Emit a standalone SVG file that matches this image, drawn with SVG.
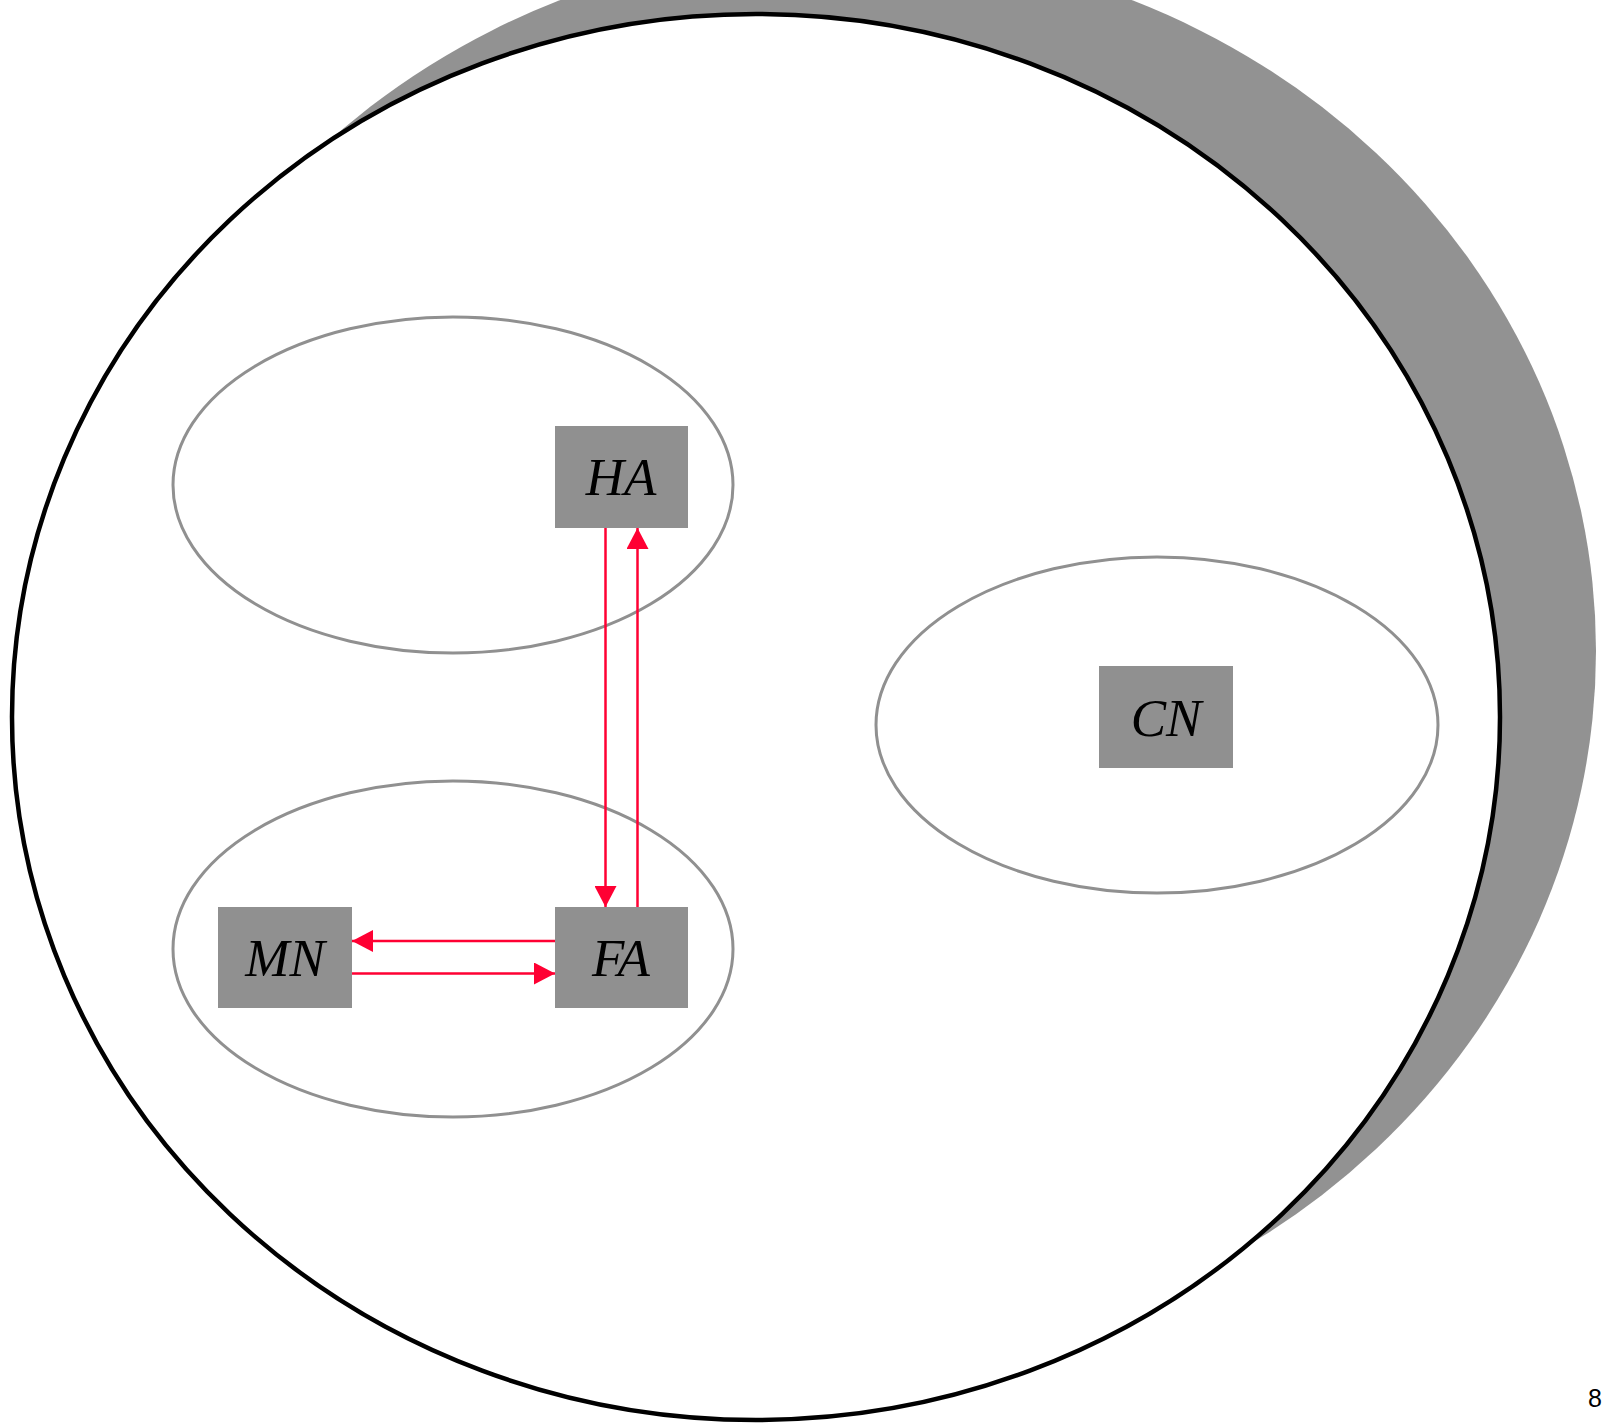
<svg xmlns="http://www.w3.org/2000/svg" width="1613" height="1423" viewBox="0 0 1613 1423">
  <style>
    .cluster { fill: none; stroke: #909090; stroke-width: 3; }
    .node rect { fill: #909090; }
    .node text { font-family: "Liberation Serif", "Times New Roman", serif; font-style: italic; font-size: 53px; fill: #000; text-anchor: middle; }
    .edge { stroke: #ff0033; stroke-width: 2.5; fill: none; marker-end: url(#arrow); }
  </style>
  <defs>
    <marker id="arrow" markerUnits="userSpaceOnUse" markerWidth="22" markerHeight="22" viewBox="0 0 21 22" refX="21" refY="11" orient="auto">
      <path d="M0,0 L21,11 L0,22 Z" fill="#ff0033"/>
    </marker>
  </defs>

  <rect width="1613" height="1423" fill="#fff"/>

  <!-- outer boundary with offset shadow -->
  <g id="outer">
    <ellipse cx="846" cy="651" rx="750" ry="704" fill="#929292"/>
    <ellipse cx="756" cy="717" rx="744" ry="703" fill="#fff" stroke="#000" stroke-width="4.5"/>
  </g>

  <!-- grouping ellipses -->
  <g id="clusters">
    <ellipse id="cluster_ha" class="cluster" cx="453" cy="485" rx="280" ry="168"/>
    <ellipse id="cluster_fa" class="cluster" cx="453" cy="949" rx="280" ry="168"/>
    <ellipse id="cluster_cn" class="cluster" cx="1157" cy="725" rx="281" ry="168"/>
  </g>

  <!-- connectors -->
  <g id="edges">
    <line class="edge" x1="605.5" y1="528" x2="605.5" y2="907"/>
    <line class="edge" x1="637.5" y1="907" x2="637.5" y2="528"/>
    <line class="edge" x1="555" y1="941" x2="352" y2="941"/>
    <line class="edge" x1="352" y1="973.5" x2="555" y2="973.5"/>
  </g>

  <!-- nodes -->
  <g id="HA" class="node">
    <rect x="555" y="426" width="133" height="102"/>
    <text x="621" y="495">HA</text>
  </g>
  <g id="FA" class="node">
    <rect x="555" y="907" width="133" height="101"/>
    <text x="621" y="976">FA</text>
  </g>
  <g id="MN" class="node">
    <rect x="218" y="907" width="134" height="101"/>
    <text x="285" y="976">MN</text>
  </g>
  <g id="CN" class="node">
    <rect x="1099" y="666" width="134" height="102"/>
    <text x="1166" y="736">CN</text>
  </g>

  <text x="1595" y="1407" font-family="Liberation Sans, Arial, sans-serif" font-size="25" text-anchor="middle" fill="#000">8</text>
</svg>
